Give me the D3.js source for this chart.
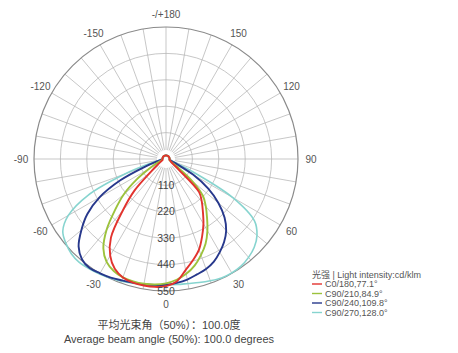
<!DOCTYPE html>
<html>
<head>
<meta charset="utf-8">
<script src="https://cdn.jsdelivr.net/npm/d3@7"></script>
<style>
  html, body { margin: 0; padding: 0; background: #ffffff; }
  svg { display: block; font-family: "Liberation Sans", "Noto Sans CJK SC", sans-serif; }
</style>
</head>
<body>
<svg id="chart" width="458" height="353"></svg>
<script>
// ---- data ----
const angles = [-180,-150,-120,-90,-80,-75,-70,-65,-60,-55,-50,-45,-40,-35,-30,-25,-20,-15,-10,-5,0,5,10,15,20,25,30,35,40,45,50,55,60,65,70,75,80,90,120,150];
const c0_180   = [15,15,15,15,15,15,18,22,30,45,80,185,280,400,465,505,525,533,535,535,530,512,470,436,402,356,312,268,232,195,70,35,25,20,18,16,15,15,15,15];
const c90_210  = [15,15,15,15,15,18,25,45,80,150,230,300,385,455,495,515,525,528,528,525,518,505,486,460,426,390,345,298,258,218,140,55,28,20,18,15,15,15,15,15];
const c90_240  = [15,15,15,15,25,40,90,210,320,400,460,515,545,555,550,545,538,533,530,527,524,518,510,498,488,472,448,422,390,345,285,215,130,50,25,18,15,15,15,15];
const c90_270  = [15,15,15,15,25,60,180,360,470,525,545,558,562,558,553,547,542,536,530,527,525,525,527,533,540,547,548,545,535,520,495,450,320,110,35,20,15,15,15,15];
const seriesNames = ["C0/180,77.1°", "C90/210,84.9°", "C90/240,109.8°", "C90/270,128.0°"];
const seriesColors = ["#e2332e", "#9cc23c", "#27388c", "#86d4cf"];
const ringTicks = [110, 220, 330, 440, 550];
const angleTicks = [0, 30, 60, 90, 120, 150, 180, -150, -120, -90, -60, -30];
const angleTickLabels = ["0", "30", "60", "90", "120", "150", "-/+180", "-150", "-120", "-90", "-60", "-30"];
const legendTitle = "光强 | Light intensity:cd/klm";
const footerLines = ["平均光束角（50%）：100.0度", "Average beam angle (50%): 100.0 degrees"];

// ---- layout ----
const cx = 166, cy = 159, R = 132;
const svg = d3.select("#chart");
const r = d3.scaleLinear().domain([0, 550]).range([0, R]);
const a = d3.scaleLinear().domain([-180, 180]).range([2 * Math.PI, 0]); // 0° at bottom, + to the right
const g = svg.append("g").attr("transform", `translate(${cx},${cy})`);

function pt(deg, rad) {
  const t = a(deg);
  return [rad * Math.sin(t), -rad * Math.cos(t)];
}

// grid: radial lines every 10°
const spokes = d3.range(-180, 180, 10);
g.selectAll("line.spoke").data(spokes).enter().append("line")
  .attr("class", "spoke")
  .attr("x1", d => pt(d, 9)[0]).attr("y1", d => pt(d, 9)[1])
  .attr("x2", d => pt(d, R)[0]).attr("y2", d => pt(d, R)[1])
  .attr("stroke", "#b4b4b4").attr("stroke-width", 0.75);

// grid rings
g.selectAll("circle.ring").data(ringTicks).enter().append("circle")
  .attr("class", "ring")
  .attr("r", d => r(d))
  .attr("fill", "none")
  .attr("stroke", d => d === 550 ? "#8a8a8a" : "#b4b4b4")
  .attr("stroke-width", d => d === 550 ? 1.2 : 0.75);

// curves
const seriesData = [c0_180, c90_210, c90_240, c90_270];
const line = d3.lineRadial()
  .angle(d => a(d[0]))
  .radius(d => r(d[1]))
  .curve(d3.curveCatmullRomClosed.alpha(0.5));
const order = [3, 2, 1, 0];
order.forEach(i => {
  const pts = angles.map((ang, k) => [ang, seriesData[i][k]]);
  g.append("path")
    .attr("d", line(pts))
    .attr("fill", "none")
    .attr("stroke", seriesColors[i])
    .attr("stroke-width", i === 3 ? 1.6 : 1.9);
});

// ring labels along the bottom ray
g.selectAll("text.rl").data(ringTicks).enter().append("text")
  .attr("class", "rl")
  .attr("x", 0).attr("y", d => r(d))
  .attr("dy", "0.35em")
  .attr("text-anchor", "middle")
  .attr("font-size", 10.5)
  .attr("fill", "#444")
  .text(d => d);

// angle labels
g.selectAll("text.al").data(angleTicks).enter().append("text")
  .attr("class", "al")
  .attr("x", (d) => pt(d, 145)[0])
  .attr("y", (d) => pt(d, 145)[1])
  .attr("dy", "0.35em")
  .attr("text-anchor", "middle")
  .attr("font-size", 10)
  .attr("fill", "#555")
  .text((d, i) => angleTickLabels[i]);

// footer
svg.selectAll("text.ft").data(footerLines).enter().append("text")
  .attr("class", "ft")
  .attr("x", 169).attr("y", (d, i) => 329 + i * 14)
  .attr("text-anchor", "middle")
  .attr("font-size", 11)
  .attr("fill", "#444")
  .text(d => d);

// legend
const lg = svg.append("g").attr("transform", "translate(312,275)");
lg.append("text").attr("x", 0).attr("y", 3).attr("font-size", 9).attr("fill", "#555").text(legendTitle);
const items = lg.selectAll("g.it").data(seriesNames).enter().append("g")
  .attr("class", "it")
  .attr("transform", (d, i) => `translate(0,${9 + i * 9.5})`);
items.append("line").attr("x1", 0).attr("x2", 10).attr("y1", 0).attr("y2", 0)
  .attr("stroke", (d, i) => seriesColors[i]).attr("stroke-width", 1.4);
items.append("text").attr("x", 13).attr("y", 0).attr("dy", "0.35em")
  .attr("font-size", 9).attr("fill", "#555").text(d => d);
</script>
</body>
</html>
